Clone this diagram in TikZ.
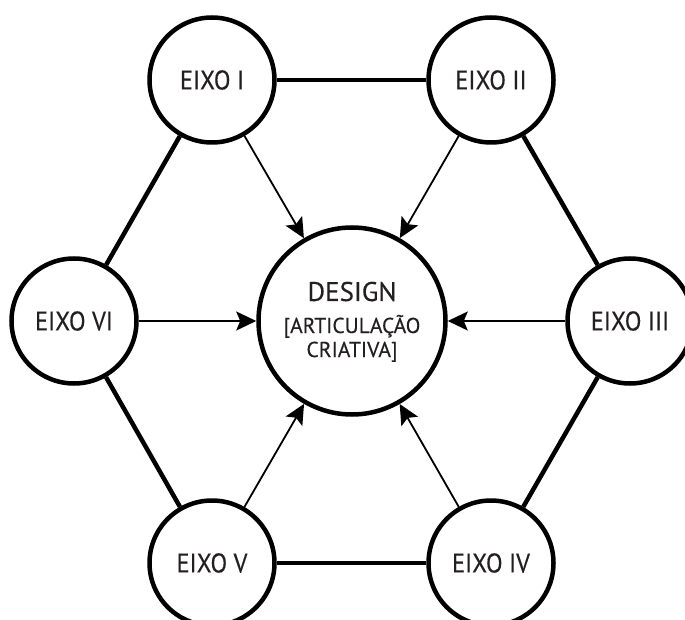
\documentclass[tikz,border=0pt]{standalone}
\usepackage{fontspec}
\setmainfont{PT Sans}[FakeBold=0.3]
\newfontfamily\axisfont{PT Sans}[FakeStretch=0.9,FakeBold=0.3]
\usetikzlibrary{arrows.meta}
\definecolor{ink}{HTML}{231F20}
\begin{document}
\begin{tikzpicture}[x=1pt,y=-1pt,
  axisnode/.style={circle,draw=black,line width=4.5pt,minimum size=125pt,
    inner sep=0pt,text=ink,font=\axisfont\fontsize{27}{30}\selectfont},
  hub/.style={circle,draw=black,line width=4.5pt,minimum size=187pt,inner sep=0pt},
  hubtitle/.style={inner sep=0pt,text=ink,font=\fontsize{27}{30}\selectfont},
  hubsub/.style={inner sep=0pt,text=ink,font=\fontsize{21.5}{24}\selectfont},
  ring/.style={line width=4.5pt,draw=black},
  feed/.style={line width=1.8pt,draw=black,
    -{Stealth[length=20pt,width=19pt,inset=4pt]}}]
\useasboundingbox (0,0) rectangle (685,620);

% central hub
\node[hub] (d) at (352,321) {};
\node[hubtitle,anchor=base] (dname) at (352,301) {DESIGN};
\node[hubsub,anchor=base] (dsubA) at (352,333) {[ARTICULAÇÃO};
\node[hubsub,anchor=base] (dsubB) at (352,357) {CRIATIVA]};

% the six axes
\node[axisnode] (e1) at (212,80)  {EIXO I};
\node[axisnode] (e2) at (491,80)  {EIXO II};
\node[axisnode] (e3) at (630,321) {EIXO III};
\node[axisnode] (e4) at (491,563) {EIXO IV};
\node[axisnode] (e5) at (212,563) {EIXO V};
\node[axisnode] (e6) at (74,321)  {EIXO VI};

% outer hexagon ring
\draw[ring] (e1) -- (e2);
\draw[ring] (e2) -- (e3);
\draw[ring] (e3) -- (e4);
\draw[ring] (e4) -- (e5);
\draw[ring] (e5) -- (e6);
\draw[ring] (e6) -- (e1);

% every axis feeds the hub
\foreach \n in {e1,e2,e3,e4,e5,e6}
  \draw[feed] (\n) -- (d);
\end{tikzpicture}
\end{document}
